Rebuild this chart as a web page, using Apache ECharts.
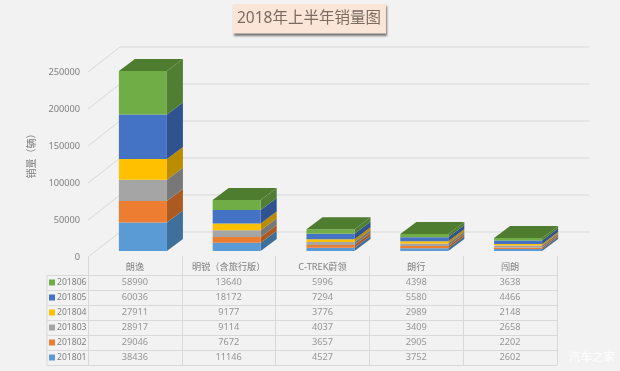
<!DOCTYPE html>
<html>
<head>
<meta charset="utf-8">
<style>
html, body { margin: 0; padding: 0; background: #f2f2f2; }
#main { width: 620px; height: 371px; }
</style>
<script src="https://cdn.jsdelivr.net/npm/echarts@6/dist/echarts.min.js"></script>
</head>
<body>
<div id="main"></div>
<script>
var categories = ['朗逸', '明锐（含旅行版）', 'C-TREK蔚领', '朗行', '闯朗'];
var months = ['201801', '201802', '201803', '201804', '201805', '201806'];
var d201801 = [38436, 11146, 4527, 3752, 2602];
var d201802 = [29046, 7672, 3657, 2905, 2202];
var d201803 = [28917, 9114, 4037, 3409, 2658];
var d201804 = [27911, 9177, 3776, 2989, 2148];
var d201805 = [60036, 18172, 7294, 5580, 4466];
var d201806 = [58990, 13640, 5996, 4398, 3638];
var valueTicks = [0, 50000, 100000, 150000, 200000, 250000];

var frontColors = ['#5b9bd5', '#ed7d31', '#a5a5a5', '#ffc000', '#4472c4', '#70ad47'];
var sideColors = ['#3f6f9b', '#ad5a22', '#787878', '#ba8c00', '#30528f', '#507e32'];
var topColor = '#4f7d2f';
var lineColor = '#d9d9d9';
var textColor = '#808080';
var fontName = '"Noto Sans", "Noto Sans CJK SC", sans-serif';

var monthData = [d201801, d201802, d201803, d201804, d201805, d201806];

var myChart = echarts.init(document.getElementById('main'));

// depth of the fake 3d floor, in pixels
var floorX = 32;
var floorY = 25;
var barDepthX = 16;
var barDepthY = 12;

function renderWall(params, api) {
    var left = params.coordSys.x;
    var right = left + params.coordSys.width + floorX;
    var y = api.coord([0, api.value(0)])[1];
    return {
        type: 'polyline',
        shape: { points: [[left, y], [left + floorX, y - floorY], [right, y - floorY]] },
        style: { fill: null, stroke: lineColor, lineWidth: 1 },
        silent: true
    };
}

function makeBarRender(m) {
    return function(params, api) {
        var cat = api.value(0);
        var low = api.coord([cat, api.value(1)]);
        var high = api.coord([cat, api.value(2)]);
        var w = api.size([1, 0])[0] * 0.512;
        var x0 = low[0] + 8 - w / 2;
        var x1 = x0 + w;
        var yb = low[1] - 6;
        var yt = high[1] - 6;
        var children = [{
            type: 'polygon',
            shape: { points: [[x1, yb], [x1 + barDepthX, yb - barDepthY], [x1 + barDepthX, yt - barDepthY], [x1, yt]] },
            style: { fill: sideColors[m] }
        }, {
            type: 'rect',
            shape: { x: x0, y: yt, width: w, height: yb - yt },
            style: { fill: frontColors[m] }
        }];
        if (m == months.length - 1) {
            children.push({
                type: 'polygon',
                shape: { points: [[x0, yt], [x0 + barDepthX, yt - barDepthY], [x1 + barDepthX, yt - barDepthY], [x1, yt]] },
                style: { fill: topColor }
            });
        }
        return { type: 'group', children: children };
    };
}

var series = [{
    type: 'custom',
    renderItem: renderWall,
    data: valueTicks.map(function(t) { return [t]; }),
    encode: { x: [], y: 0 },
    z: 1,
    silent: true
}];

var stack = categories.map(function() { return 0; });
var rowRich = { t: { color: textColor, fontSize: 8.6, fontFamily: fontName, padding: [0, 0, 0, 2] } };
months.forEach(function(name, m) {
    var rows = monthData[m].map(function(v, c) {
        var row = [c, stack[c], stack[c] + v];
        stack[c] += v;
        return row;
    });
    series.push({
        name: name,
        type: 'custom',
        renderItem: makeBarRender(m),
        data: rows,
        encode: { x: 0, y: [1, 2] },
        z: 2 + m
    });
    series.push({
        type: 'scatter',
        xAxisIndex: 1,
        yAxisIndex: 1,
        symbolSize: 0,
        data: monthData[m].map(function(v, c) { return [c, m, v]; }),
        label: {
            show: true,
            position: 'inside',
            color: textColor,
            fontSize: 9.2,
            fontFamily: fontName,
            formatter: function(p) { return p.value[2]; }
        },
        silent: true
    });
    rowRich['s' + m] = { width: 6, height: 6, backgroundColor: frontColors[m] };
});

var option = {
    animation: false,
    backgroundColor: '#f2f2f2',
    title: {
        text: '2018年上半年销量图',
        left: 233,
        top: 4,
        padding: [7, 5, 7, 4],
        backgroundColor: '#fbe5d6',
        shadowColor: 'rgba(0,0,0,0.5)',
        shadowBlur: 2,
        shadowOffsetX: 1,
        shadowOffsetY: 2,
        textStyle: { color: '#7a6a60', fontSize: 15.5, fontWeight: 'normal', fontFamily: fontName }
    },
    grid: [
        { left: 88, right: 63, top: 72, height: 185 },
        { left: 88, right: 63, top: 275, height: 90 }
    ],
    xAxis: [{
        type: 'category',
        data: categories,
        axisLine: { show: false },
        axisTick: { show: false },
        axisLabel: { show: false }
    }, {
        gridIndex: 1,
        type: 'category',
        position: 'top',
        data: categories,
        axisLine: { show: true, lineStyle: { color: lineColor } },
        axisTick: { show: true, interval: 0, length: 19, lineStyle: { color: lineColor } },
        axisLabel: { interval: 0, color: textColor, fontSize: 9.2, fontFamily: fontName, margin: 3 },
        splitLine: { show: true, interval: 0, lineStyle: { color: lineColor } }
    }],
    yAxis: [{
        type: 'value',
        min: 0,
        max: 250000,
        interval: 50000,
        name: '销量（辆）',
        nameLocation: 'middle',
        nameGap: 48,
        nameTextStyle: { color: textColor, fontSize: 10, fontFamily: fontName, padding: [0, 0, 0, 22] },
        axisLine: { show: false },
        axisTick: { show: false },
        axisLabel: {
            color: textColor,
            fontSize: 9.2,
            fontFamily: fontName,
            margin: 8,
            formatter: function(v) { return String(v); }
        },
        splitLine: { show: false }
    }, {
        gridIndex: 1,
        type: 'category',
        data: months,
        axisLine: { show: true, lineStyle: { color: lineColor } },
        axisTick: { show: true, interval: 0, length: 41, lineStyle: { color: lineColor } },
        axisLabel: {
            interval: 0,
            margin: 39,
            align: 'left',
            formatter: function(v, i) { return '{s' + i + '|}{t|' + v + '}'; },
            rich: rowRich
        },
        splitLine: { show: true, interval: 0, lineStyle: { color: lineColor } }
    }],
    graphic: [{
        type: 'line',
        shape: { x1: 47, y1: 275, x2: 47, y2: 365 },
        style: { stroke: lineColor, lineWidth: 1 }
    }, {
        type: 'text',
        left: 569,
        top: 351,
        style: { text: '汽车之家', fill: '#ffffff', font: '11.5px "Noto Sans CJK SC"' }
    }],
    series: series
};

myChart.setOption(option);
</script>
</body>
</html>
